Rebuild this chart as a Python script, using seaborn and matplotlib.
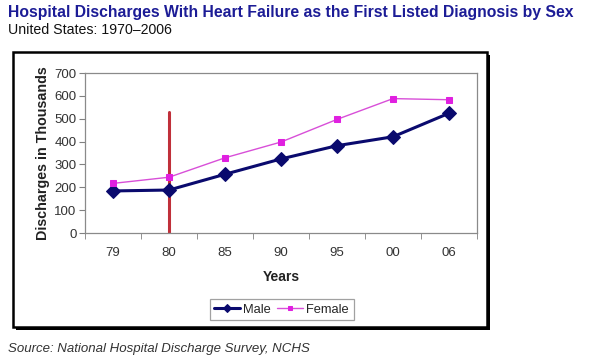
import pandas as pd
import matplotlib.pyplot as plt
import seaborn as sns
from matplotlib.patches import Rectangle

# data (thousands of discharges)
years = ["79", "80", "85", "90", "95", "00", "06"]
male = [184, 188, 257, 324, 382, 421, 524]
female = [217, 244, 329, 398, 497, 588, 583]
marker_year = "80"
marker_top = 531

df = pd.DataFrame({"year": years * 2,
                   "value": male + female,
                   "sex": ["Male"] * len(years) + ["Female"] * len(years)})

sns.set_style("white")
plt.rcParams['font.family'] = ['Liberation Sans', 'DejaVu Sans']

fig = plt.figure(figsize=(6, 3.57), dpi=100)

# outer chart box with a shadow
W, H = 600, 357
def fx(px): return px / W
def fy(py): return 1 - py / H
fig.patches.append(Rectangle((fx(16), fy(330)), fx(487 - 13), (327 - 52) / H,
                             transform=fig.transFigure, facecolor="black",
                             edgecolor="none", zorder=0))
fig.patches.append(Rectangle((fx(13), fy(327)), fx(487 - 13), (327 - 52) / H,
                             transform=fig.transFigure, facecolor="white",
                             edgecolor="black", linewidth=1.8, zorder=1))

ax = fig.add_axes([fx(85), fy(233), fx(392), 160 / H])
ax.set_zorder(2)

sns.lineplot(data=df[df.sex == "Male"], x="year", y="value", ax=ax,
             color="#0a0a6e", marker="D", markersize=7, linewidth=2.2,
             markeredgecolor="#0a0a6e", label="Male", sort=False)
sns.lineplot(data=df[df.sex == "Female"], x="year", y="value", ax=ax,
             color="#d84fd8", marker="s", markersize=5, linewidth=1.0,
             markerfacecolor="#e020e0", markeredgecolor="#e020e0",
             label="Female", sort=False)

xi = years.index(marker_year)
ax.plot([xi, xi], [0, marker_top], color="#c0303a", linewidth=2.2, zorder=1)

ax.set_xlim(-0.5, len(years) - 0.5)
ax.set_ylim(0, 700)
ax.set_yticks(range(0, 701, 100))
ax.set_xticks(range(len(years)))
ax.set_xticklabels(years)
ax.set_xticks([i - 0.5 for i in range(len(years) + 1)], minor=True)
ax.tick_params(axis="x", which="major", length=0, pad=10, labelsize=9.5, colors="#333333")
ax.tick_params(axis="x", which="minor", length=4, color="#808080", direction="out", bottom=True)
ax.tick_params(axis="y", length=4, color="#808080", direction="out", left=True,
               labelsize=9.5, colors="#333333", pad=2)
for s in ax.spines.values():
    s.set_color("#8a8a8a")
    s.set_linewidth(0.9)

ax.set_xlabel("Years", fontsize=10, fontweight="bold", color="#222222", labelpad=8)
ax.set_ylabel("Discharges in Thousands", fontsize=10.3, fontweight="bold", color="#222222", labelpad=3)

leg = ax.legend(loc="center", bbox_to_anchor=(fx(281.5), fy(309.5)),
                bbox_transform=fig.transFigure, ncol=2, fontsize=9.3,
                frameon=True, fancybox=False, handlelength=2.0, markerscale=0.6,
                handletextpad=0.25, columnspacing=0.5, borderpad=0.35)
leg.get_frame().set_edgecolor("#8a8a8a")
leg.get_frame().set_linewidth(0.9)

fig.text(fx(8), fy(13), "Hospital Discharges With Heart Failure as the First Listed Diagnosis by Sex",
         fontsize=11.3, fontweight="bold", color="#1c1c96", va="center", ha="left")
fig.text(fx(8), fy(30), "United States: 1970\u20132006", fontsize=10.2, color="#111111",
         va="center", ha="left")
fig.text(fx(8), fy(349), "Source: National Hospital Discharge Survey, NCHS", fontsize=9.5,
         style="italic", color="#333333", va="center", ha="left")

fig.savefig("out.png", dpi=100)
